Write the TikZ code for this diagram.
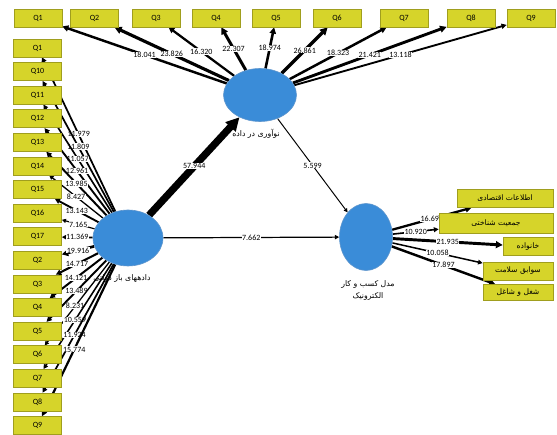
\documentclass[tikz,border=0pt]{standalone}
\usepackage{fontspec}
\setmainfont{Carlito}
\newfontfamily\arabicfont[Script=Arabic]{DejaVu Sans}
\TeXXeTstate=1
\usetikzlibrary{shapes.geometric,arrows.meta}
\pgfdeclarelayer{background}
\pgfsetlayers{background,main}
\definecolor{boxfill}{RGB}{214,212,42}
\definecolor{boxline}{RGB}{160,158,30}
\definecolor{latfill}{RGB}{58,140,216}
\definecolor{latline}{RGB}{95,150,205}
\tikzset{
  qbox/.style={draw=boxline, fill=boxfill, line width=0.6pt, minimum width=48pt, minimum height=18pt, inner sep=0pt, font=\fontsize{8}{9}\selectfont},
  pbox/.style={draw=boxline, fill=boxfill, line width=0.6pt, minimum height=18pt, inner sep=0pt, font=\arabicfont\fontsize{7.6}{8}\selectfont},
  lat/.style={ellipse, draw=latline, fill=latfill, line width=0.6pt, inner sep=0pt},
  val/.style={fill=white, inner sep=0.4pt, font=\fontsize{8}{8}\selectfont},
  ptext/.style={font=\arabicfont\fontsize{7.8}{12}\selectfont, align=center},
  ld/.style={draw=black, line width={0.3pt+0.12pt*#1}, -{Triangle[length=2.4pt 1.5, width=2.4pt 1.5]}}
}
\begin{document}
\begin{tikzpicture}[x=1pt,y=-1pt]
\useasboundingbox (0,0) rectangle (557,435);
% latent variables
\node[lat, minimum width=70pt, minimum height=56pt] (od) at (128,238) {};
\node[lat, minimum width=73pt, minimum height=53pt] (inn) at (260,95) {};
\node[lat, minimum width=53pt, minimum height=67pt] (bm) at (366,237) {};
% top indicators
\foreach \lab/\x [count=\i] in {Q1/38,Q2/94.5,Q3/156,Q4/216,Q5/276,Q6/337,Q7/404,Q8/471,Q9/531}
  \node[qbox] (T\i) at (\x,18) {\lab};
% left indicators
\foreach \lab [count=\i] in {Q1,Q10,Q11,Q12,Q13,Q14,Q15,Q16,Q17,Q2,Q3,Q4,Q5,Q6,Q7,Q8,Q9}
  \node[qbox] (L\i) at (37.5,{48+23.6*(\i-1)}) {\lab};
% right indicators
\node[pbox, minimum width=96pt] (R1) at (505,198.5) {\beginR اطلاعات اقتصادی\endR};
\node[pbox, minimum width=114pt, minimum height=20pt] (R2) at (496,223) {\beginR جمعیت شناختی\endR};
\node[pbox, minimum width=50pt] (R3) at (528,246.5) {\beginR خانواده\endR};
\node[pbox, minimum width=70pt] (R4) at (518,271) {\beginR سوابق سلامت\endR};
\node[pbox, minimum width=70pt, minimum height=16pt] (R5) at (518,292.5) {\beginR شغل و شاغل\endR};
% latent labels
\node[ptext] (innl) at (256,134) {\beginR نوآوری در داده\endR};
\node[ptext] (bml) at (368,290) {\beginR مدل کسب و کار\endR\\\beginR الکترونیک\endR};
\begin{pgfonlayer}{background}
\node[ptext] (odl) at (122,278) {\beginR دادههای باز دولتی\endR};
% left loadings
\foreach \v/\p [count=\i] in {11.979/0.5,11.809/0.5,11.057/0.5,12.961/0.5,13.985/0.5,8.427/0.5,13.143/0.5,7.165/0.5,11.369/0.5,19.916/0.5,14.717/0.5,14.121/0.5,13.489/0.5,8.231/0.53,10.559/0.54,11.924/0.55,15.774/0.56}
  \draw[ld=\v] (od) -- node[val,pos=\p]{\v} (L\i);
% top loadings
\foreach \v [count=\i] in {18.041,23.826,16.320,22.307,18.974,26.861,18.323,21.421,13.118}
  \draw[ld=\v] (inn) -- node[val]{\v} (T\i);
% right loadings
\foreach \v [count=\i] in {16.698,10.920,21.935,10.058,17.897}
  \draw[ld=\v] (bm) -- node[val]{\v} (R\i);
% structural paths
\draw[ld=57.944] (od) -- node[val]{57.944} (inn);
\draw[ld=5.599] (inn) -- node[val]{5.599} (bm);
\draw[ld=7.662] (od) -- node[val]{7.662} (bm);
\end{pgfonlayer}
\end{tikzpicture}
\end{document}
